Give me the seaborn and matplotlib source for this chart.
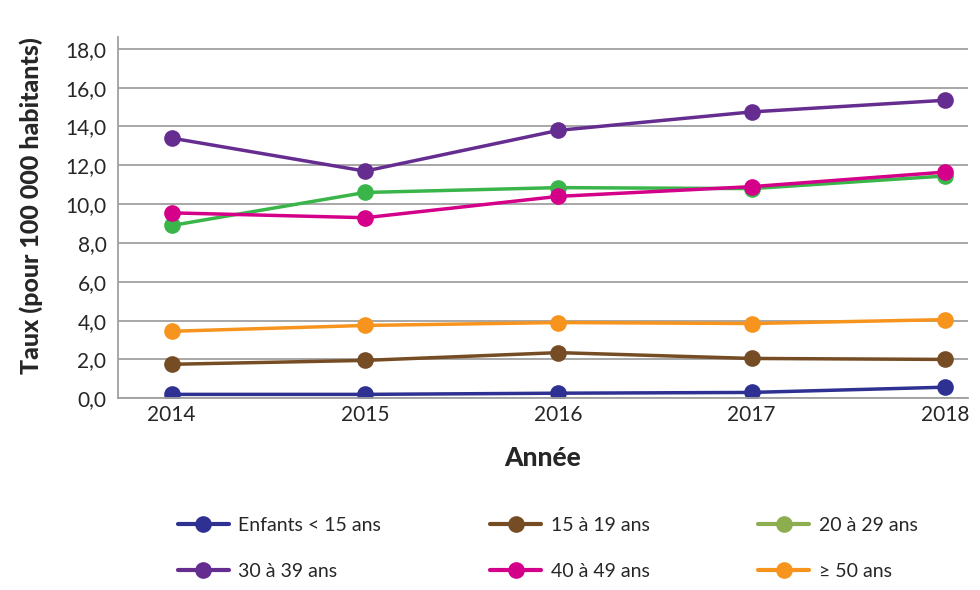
import numpy as np
import pandas as pd
import seaborn as sns
import matplotlib.pyplot as plt
from matplotlib.lines import Line2D

# Données (taux pour 100 000 habitants)
annees = [2014, 2015, 2016, 2017, 2018]
groupes = ['Enfants < 15 ans', '15 à 19 ans', '20 à 29 ans',
           '30 à 39 ans', '40 à 49 ans', '≥ 50 ans']
enfants = [0.2, 0.2, 0.26, 0.3, 0.57]
ans_15_19 = [1.75, 1.95, 2.35, 2.05, 2.0]
ans_20_29 = [8.9, 10.6, 10.85, 10.8, 11.45]
ans_30_39 = [13.4, 11.7, 13.8, 14.75, 15.35]
ans_40_49 = [9.55, 9.3, 10.4, 10.9, 11.65]
ans_50 = [3.45, 3.75, 3.9, 3.85, 4.05]

couleurs = ['#2e3192', '#754c24', '#39b54a', '#662d91', '#d4008a', '#f7941d']
couleurs_legende = ['#2e3192', '#754c24', '#8cae4f', '#662d91', '#d4008a', '#f7941d']

valeurs = [enfants, ans_15_19, ans_20_29, ans_30_39, ans_40_49, ans_50]
df = pd.DataFrame({
    'Année': np.tile(np.arange(len(annees)), len(groupes)),
    'Taux': np.concatenate(valeurs),
    'Groupe': np.repeat(groupes, len(annees)),
})

sns.set_style('white')
plt.rcParams['font.family'] = ['Lato', 'DejaVu Sans']

fig = plt.figure(figsize=(9.8, 5.9), dpi=100)
ax = fig.add_axes([0.120, 0.325, 0.868, 0.612])

sns.lineplot(
    data=df, x='Année', y='Taux', hue='Groupe', hue_order=groupes,
    palette=couleurs, marker='o', markersize=12, markeredgewidth=0,
    linewidth=2.5, legend=False, ax=ax,
)

# Axes et grille
ax.set_ylim(0, 18.6)
ax.set_xlim(-0.28, 4.12)
yt = np.arange(0, 19, 2)
ax.set_yticks(yt)
ax.set_yticklabels([f'{v:.1f}'.replace('.', ',') for v in yt], fontsize=15)
ax.set_xticks(range(len(annees)))
ax.set_xticklabels([str(a) for a in annees], fontsize=15)
ax.set_xticks(np.arange(0.5, 4, 1), minor=True)
ax.tick_params(axis='x', which='major', length=0, pad=5)
ax.tick_params(axis='x', which='minor', length=7, color='#a0a0a0', width=1)
ax.tick_params(axis='y', length=6, color='#a0a0a0', width=1.3, pad=2)
ax.grid(axis='y', color='#a0a0a0', linewidth=1.3)
ax.set_axisbelow(True)
for s in ['top', 'right']:
    ax.spines[s].set_visible(False)
ax.spines['left'].set_color('#a0a0a0')
ax.spines['bottom'].set_color('#a0a0a0')
ax.spines['left'].set_linewidth(1.3)
ax.spines['bottom'].set_linewidth(1.3)

ax.set_xlabel('Année', fontsize=19, fontweight='black', labelpad=15)
ax.set_ylabel('Taux (pour 100 000 habitants)', fontsize=18, fontweight='black')
ax.yaxis.set_label_coords(-0.088, 0.535)

# Légende (ordre colonne par colonne pour avoir 3 entrées par ligne)
poignees = [Line2D([0], [0], color=c, lw=3, marker='o', markersize=12,
                   markeredgewidth=0) for c in couleurs_legende]
ordre = [0, 3, 1, 4, 2, 5]
fig.legend([poignees[i] for i in ordre], [groupes[i] for i in ordre],
           ncol=3, loc='center', bbox_to_anchor=(0.559, 0.07), frameon=False,
           fontsize=14, handlelength=2.6, columnspacing=5.6, labelspacing=1.5,
           handletextpad=0.5)

plt.savefig('out.png', dpi=100)
